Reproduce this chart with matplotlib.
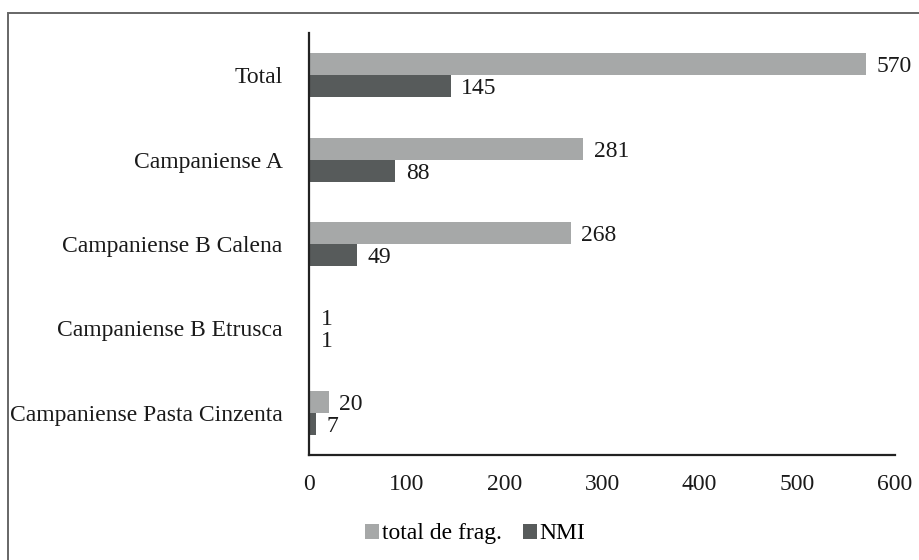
import matplotlib.pyplot as plt
from matplotlib.patches import Rectangle
import numpy as np

plt.rcParams['font.family'] = ['Liberation Serif', 'DejaVu Serif']

categories = ["Total", "Campaniense A", "Campaniense B Calena",
              "Campaniense B Etrusca", "Campaniense Pasta Cinzenta"]
total_frag = [570, 281, 268, 1, 20]
nmi = [145, 88, 49, 1, 7]

light = "#a6a8a8"
dark = "#575b5b"

fig = plt.figure(figsize=(9.19, 5.6), dpi=100)
ax = fig.add_axes([309 / 919, 1 - 455 / 560, (895 - 309) / 919, (455 - 33) / 560])

y = np.arange(len(categories))
h = 0.26
b1 = ax.barh(y - h / 2, total_frag, height=h, color=light, label="total de frag.")
b2 = ax.barh(y + h / 2, nmi, height=h, color=dark, label="NMI")

for bars, vals in [(b1, total_frag), (b2, nmi)]:
    for bar, v in zip(bars, vals):
        ax.text(bar.get_width() + 11, bar.get_y() + bar.get_height() / 2 + 0.03, str(v),
                va="center", ha="left", fontsize=17, color="#1a1a1a")

ax.set_ylim(len(categories) - 0.5, -0.5)
ax.set_xlim(0, 600)
ax.set_xticks(range(0, 601, 100))
ax.set_yticks(y)
ax.set_yticklabels(categories)
ax.tick_params(axis="both", length=0, labelsize=17, colors="#1a1a1a")
ax.tick_params(axis="x", pad=14)
ax.tick_params(axis="y", pad=19)
for s in ["top", "right"]:
    ax.spines[s].set_visible(False)
for s in ["left", "bottom"]:
    ax.spines[s].set_color("#222222")
    ax.spines[s].set_linewidth(1.6)

fig.legend(loc="lower center", bbox_to_anchor=(0.517, -0.01), ncol=2, frameon=False,
           fontsize=17, handlelength=0.6, handleheight=0.6, handletextpad=0.1,
           columnspacing=0.9)

fig.patches.append(Rectangle((8 / 919, -0.1), 1.2, 1 - 13 / 560 + 0.1,
                             transform=fig.transFigure, fill=False,
                             edgecolor="#666666", linewidth=1.4))

fig.savefig("out.png", dpi=100)
